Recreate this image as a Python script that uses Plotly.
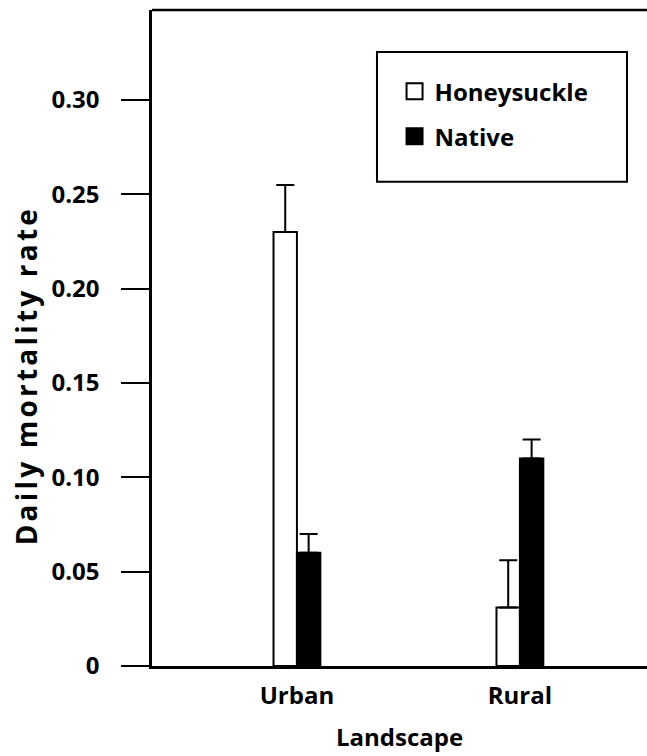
import plotly.graph_objects as go

# mortality by landscape, honeysuckle vs native shrubs
landscapes = ["Urban", "Rural"]
honeysuckle = [0.23, 0.031]
honeysuckle_se = [0.025, 0.025]
native = [0.06, 0.11]
native_se = [0.01, 0.01]

tick_vals = [0, 0.05, 0.10, 0.15, 0.20, 0.25, 0.30]
tick_text = ["0", "0.05", "0.10", "0.15", "0.20", "0.25", "0.30"]

FONT = "Open Sans"
err = dict(type="data", symmetric=False, arrayminus=[0, 0],
           color="black", thickness=2, width=9)

fig = go.Figure()
fig.add_trace(go.Bar(
    x=landscapes, y=honeysuckle, name="Honeysuckle", showlegend=False,
    marker=dict(color="white", line=dict(color="black", width=2)),
    error_y=dict(err, array=honeysuckle_se),
))
fig.add_trace(go.Bar(
    x=landscapes, y=native, name="Native", showlegend=False,
    marker=dict(color="black", line=dict(color="black", width=2)),
    error_y=dict(err, array=native_se),
))
# legend entries with bigger square keys
fig.add_trace(go.Scatter(
    x=[None], y=[None], mode="markers", name="Honeysuckle", legendgroup="h",
    marker=dict(symbol="square", size=16, color="white",
                line=dict(color="black", width=2)),
))
fig.add_trace(go.Scatter(
    x=[None], y=[None], mode="markers", name="Native", legendgroup="n",
    marker=dict(symbol="square", size=16, color="black",
                line=dict(color="black", width=2)),
))

fig.update_layout(
    width=647, height=756,
    margin=dict(l=152, r=0, t=10, b=90),
    paper_bgcolor="white", plot_bgcolor="white",
    barmode="group", bargap=0.79, bargroupgap=0,
    font=dict(family=FONT, size=24, color="black", weight="bold"),
    showlegend=True,
    legend=dict(
        x=0.49, y=0.91, xanchor="left", yanchor="top",
        bgcolor="rgba(0,0,0,0)", borderwidth=0,
        font=dict(family=FONT, size=24, color="black", weight="bold"),
        tracegroupgap=11, traceorder="grouped",
    ),
    shapes=[
        # legend box
        dict(type="rect", xref="paper", yref="paper",
             x0=0.4545, x1=0.9596, y0=0.738, y1=0.936,
             line=dict(color="black", width=2)),
        # top border
        dict(type="line", xref="paper", yref="paper",
             x0=0, x1=1, y0=1, y1=1,
             line=dict(color="black", width=2.5)),
    ],
    annotations=[
        dict(text="<span style='letter-spacing:3.2px'>Daily mortality rate</span>",
             xref="paper", yref="paper", x=-0.254, y=0.442,
             xanchor="center", yanchor="middle", textangle=-90, showarrow=False,
             font=dict(family=FONT, size=28, weight="bold")),
        dict(text="Landscape", xref="paper", yref="paper",
             x=0.5, y=-0.107, xanchor="center", yanchor="middle",
             showarrow=False, font=dict(family=FONT, size=24, weight="bold")),
    ],
)

fig.update_xaxes(
    type="category", range=[-0.65, 1.57],
    showline=True, linecolor="black", linewidth=2.5,
    ticks="", ticklabelstandoff=6, showgrid=False, zeroline=False,
    tickfont=dict(family=FONT, size=24, weight="bold"),
)
fig.update_yaxes(
    range=[0, 0.3477], tickvals=tick_vals, ticktext=tick_text,
    showline=True, linecolor="black", linewidth=2.5,
    ticks="outside", ticklen=28, tickwidth=1.5, tickcolor="black",
    ticklabelstandoff=17, showgrid=False, zeroline=False,
    tickfont=dict(family=FONT, size=24, weight="bold"),
)

fig.write_html(
    "out.html",
    config={"displayModeBar": False},
    post_script="document.body.style.margin='0px';document.body.style.overflow='hidden';",
)
